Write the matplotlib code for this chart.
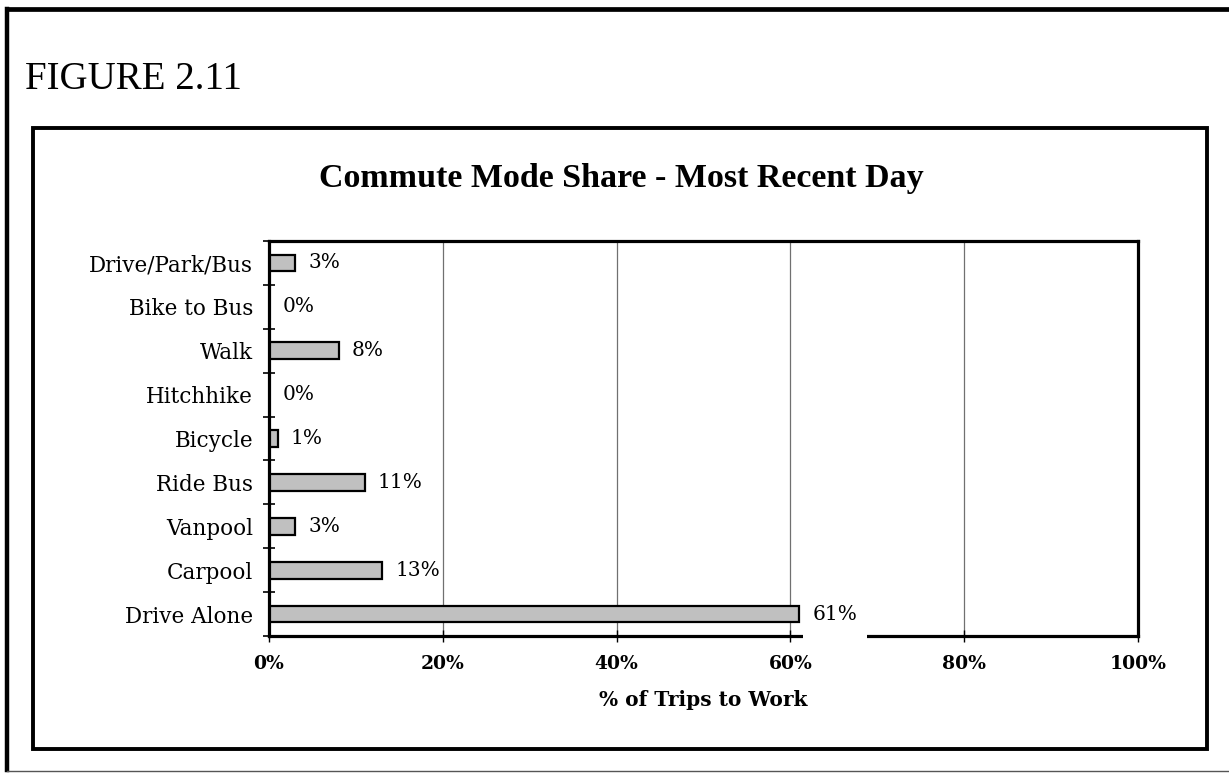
import matplotlib
matplotlib.use("Agg")
import matplotlib.pyplot as plt
from matplotlib.patches import Rectangle
from matplotlib.lines import Line2D
from matplotlib.transforms import IdentityTransform

# Commute mode shares (percent of trips to work), listed bottom to top
modes = ["Drive Alone", "Carpool", "Vanpool", "Ride Bus", "Bicycle",
         "Hitchhike", "Walk", "Bike to Bus", "Drive/Park/Bus"]
shares = [61, 13, 3, 11, 1, 0, 8, 0, 3]
xticks = [0, 20, 40, 60, 80, 100]
xtick_labels = ["0%", "20%", "40%", "60%", "80%", "100%"]

W, H = 1229, 773
SERIF = ["DejaVu Serif"]
TIMES = ["Liberation Serif", "DejaVu Serif"]
plt.rcParams["font.family"] = SERIF

fig = plt.figure(figsize=(W / 100, H / 100), dpi=100)
fig.patch.set_facecolor("white")


def px(x0, y0, x1, y1):
    """Convert a pixel box (top-left origin) to figure fractions."""
    return [x0 / W, 1 - y1 / H, (x1 - x0) / W, (y1 - y0) / H]


# Page frame: heavy left/top rules, light bottom rule
fig.add_artist(Line2D([7 / W, 7 / W], [1 - 8.5 / H, 1 - 770 / H], color="black", lw=3.2,
                      transform=fig.transFigure, solid_capstyle="projecting"))
fig.add_artist(Line2D([7 / W, 1.0], [1 - 8.5 / H, 1 - 8.5 / H], color="black", lw=3.4,
                      transform=fig.transFigure, solid_capstyle="projecting"))
fig.add_artist(Line2D([7 / W, 1.0], [1 - 770.5 / H, 1 - 770.5 / H], color="#555555", lw=1.0,
                      transform=fig.transFigure))

fig.text(25 / W, 1 - 89 / H, "FIGURE 2.11", fontsize=28, family=TIMES,
         ha="left", va="baseline")

# Chart frame
fig.add_artist(Rectangle((33 / W, 1 - 749 / H), (1207 - 33) / W, (749 - 127.5) / H,
                         transform=fig.transFigure, fill=False, edgecolor="black", lw=2.8))

fig.text(621 / W, 1 - 187 / H, "Commute Mode Share - Most Recent Day",
         fontsize=24.5, fontweight="bold", family=TIMES, ha="center", va="baseline")

ax = fig.add_axes(px(269, 241, 1138, 636))
y = list(range(len(modes)))
ax.barh(y, shares, height=0.38, color="#c0c0c0", edgecolor="black", linewidth=1.6, zorder=3)

ax.set_xlim(0, 100)
ax.set_ylim(-0.5, len(modes) - 0.5)
ax.set_xticks(xticks)
ax.set_xticklabels(xtick_labels, fontsize=13.5, fontweight="bold")
ax.set_yticks(y)
ax.set_yticklabels(modes, fontsize=15.5)
ax.set_yticks([i - 0.5 for i in range(len(modes) + 1)], minor=True)
ax.tick_params(axis="y", which="major", length=0, pad=11.5)
ax.tick_params(axis="y", which="minor", direction="inout", length=9, width=1.2)
ax.tick_params(axis="x", direction="inout", length=8, width=1.0, pad=10)

for gx in xticks[1:-1]:
    ax.axvline(gx, color="#707070", lw=0.9, zorder=1)

for side in ["left", "bottom", "top", "right"]:
    ax.spines[side].set_linewidth(2.3)
    ax.spines[side].set_color("black")
    ax.spines[side].set_zorder(4)

labels = []
for yi, v in zip(y, shares):
    t = ax.annotate(f"{v}%", (v, yi), xytext=(9.5, 0), textcoords="offset points",
                    ha="left", va="center", fontsize=14.5, zorder=7)
    labels.append((v, t))

ax.set_xlabel("% of Trips to Work", fontsize=14.5, fontweight="bold", labelpad=12)

# The largest value's label sits on a white box that breaks the bottom axis line
fig.canvas.draw()
renderer = fig.canvas.get_renderer()
top_label = max(labels, key=lambda p: p[0])[1]
bb = top_label.get_window_extent(renderer)
cy = (bb.y0 + bb.y1) / 2
ax.add_patch(Rectangle((bb.x0 - 9, cy - 26), bb.width + 19, 38,
                       transform=IdentityTransform(), facecolor="white",
                       edgecolor="none", zorder=5, clip_on=False))

fig.savefig("out.png", dpi=100, facecolor="white")
